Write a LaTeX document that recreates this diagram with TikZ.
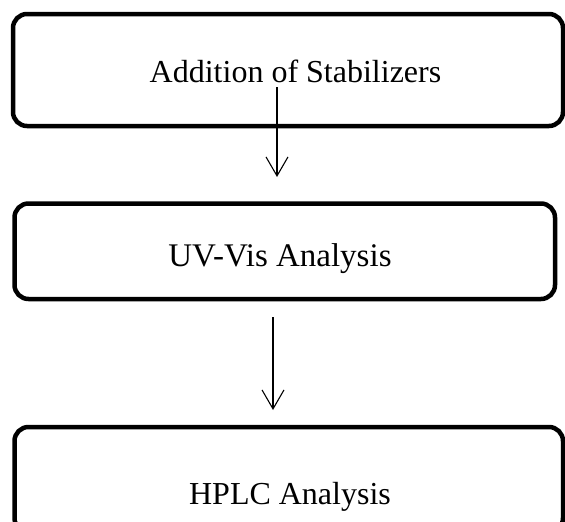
\documentclass[tikz,border=0pt]{standalone}
\usepackage{fontspec}
\setmainfont{Liberation Serif}
\usetikzlibrary{arrows.meta}
\begin{document}
\begin{tikzpicture}[x=1pt,y=-1pt,
  boxstyle/.style={draw=black, line width=4.5pt, rounded corners=14pt, rectangle, inner sep=0pt, outer sep=0pt},
  labelstyle/.style={anchor=base, inner sep=0pt, font=\fontsize{32}{38}\selectfont},
  arrowstyle/.style={line width=1.1pt, -{Straight Barb[length=19pt,width=22pt,line width=1.1pt]}}]
\useasboundingbox (0,0) rectangle (565,522);
\clip (0,0) rectangle (565,522);
\node[boxstyle, minimum width=550pt, minimum height=112pt] (b1) at (288,70) {};
\node[boxstyle, minimum width=540.5pt, minimum height=95.5pt] (b2) at (284.75,251.25) {};
\node[boxstyle, minimum width=548.5pt, minimum height=105pt] (b3) at (288.75,479.5) {};
\node[labelstyle] (t1) at (295.5,82) {Addition of Stabilizers};
\node[labelstyle, font=\fontsize{33}{39}\selectfont] (t2) at (280,266) {UV-Vis Analysis};
\node[labelstyle] (t3) at (290,504) {HPLC Analysis};
\coordinate (a1s) at (277,87);
\coordinate (a1e) at (277,177);
\coordinate (a2s) at (273,317);
\coordinate (a2e) at (273,410);
\draw[arrowstyle] (a1s) -- (a1e);
\draw[arrowstyle] (a2s) -- (a2e);
\end{tikzpicture}
\end{document}
